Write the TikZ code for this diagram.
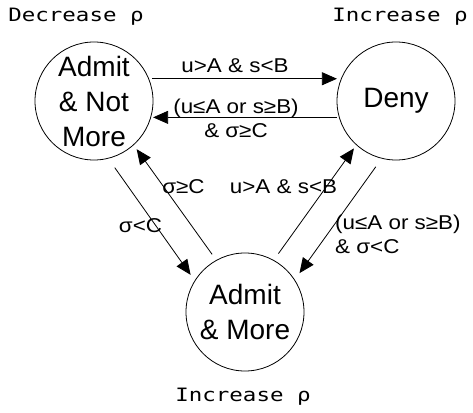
\documentclass[tikz,border=0pt]{standalone}
\usepackage{fontspec}
\setmainfont{Liberation Sans}
\newfontfamily\condfont[FakeStretch=1.12]{Liberation Sans}
\newfontfamily\ratefont[FakeStretch=1.22]{DejaVu Sans Mono}
\usetikzlibrary{arrows.meta}

\begin{document}
\begin{tikzpicture}[
		x = 1pt,
		y = 1pt,
		state/.style = {
			draw,
			circle,
			line width = 0.8pt,
			minimum size = 118pt,
			inner sep = 0pt,
			align = center,
			font = \fontsize{28}{35}\selectfont,
		},
		trans/.style = {
			line width = 0.8pt,
			-{Triangle[length = 15pt, width = 13pt]},
		},
		cond/.style = {
			inner sep = 0pt,
			font = \condfont\fontsize{20}{24.5}\selectfont,
		},
		rate/.style = {
			inner sep = 0pt,
			anchor = base,
			font = \ratefont\fontsize{18.4}{22}\selectfont,
		}
	]
	\useasboundingbox (0, 0) rectangle (473, 412);

	\node [state] (notMore) at (94, 311) {Admit\\\& Not\\More};
	\node [state] (deny) at (396, 311) {Deny};
	\node [state] (more) at (245, 100) {Admit\\\& More};

	\node [rate] (rateNotMore) at (76, 390.3) {Decrease ρ};
	\node [rate] (rateDeny) at (400, 390.3) {Increase ρ};
	\node [rate] (rateMore) at (243, 10.3) {Increase ρ};

	\draw [trans, shorten <= 3pt, shorten >= 4pt] (notMore.22) to (deny.158);
	\draw [trans, shorten <= 2pt, shorten >= 2pt] (deny.196) to (notMore.-16);
	\draw [trans, shorten <= 11pt, shorten >= 7pt] (notMore.-76) to (more.148);
	\draw [trans, shorten <= 7pt, shorten >= 5pt] (more.119) to (notMore.-48);
	\draw [trans, shorten <= 10pt, shorten >= 8pt] (deny.-104) to (more.33);
	\draw [trans, shorten <= 8pt, shorten >= 4pt] (more.61) to (deny.-132);

	\node [cond, anchor = base] (toDeny) at (235, 339) {u>A \& s<B};
	\node [cond, anchor = north, align = center] (toNotMore) at (236, 313.6) {(u≤A or s≥B)\\\& σ≥C};
	\node [cond, anchor = base] (moreToNotMore) at (183.5, 218) {σ≥C};
	\node [cond, anchor = base] (moreToDeny) at (283.5, 218) {u>A \& s<B};
	\node [cond, anchor = base] (notMoreToMore) at (140.5, 179) {σ<C};
	\node [cond, anchor = north west, align = left] (denyToMore) at (335, 197.6) {(u≤A or s≥B)\\\& σ<C};
\end{tikzpicture}
\end{document}
